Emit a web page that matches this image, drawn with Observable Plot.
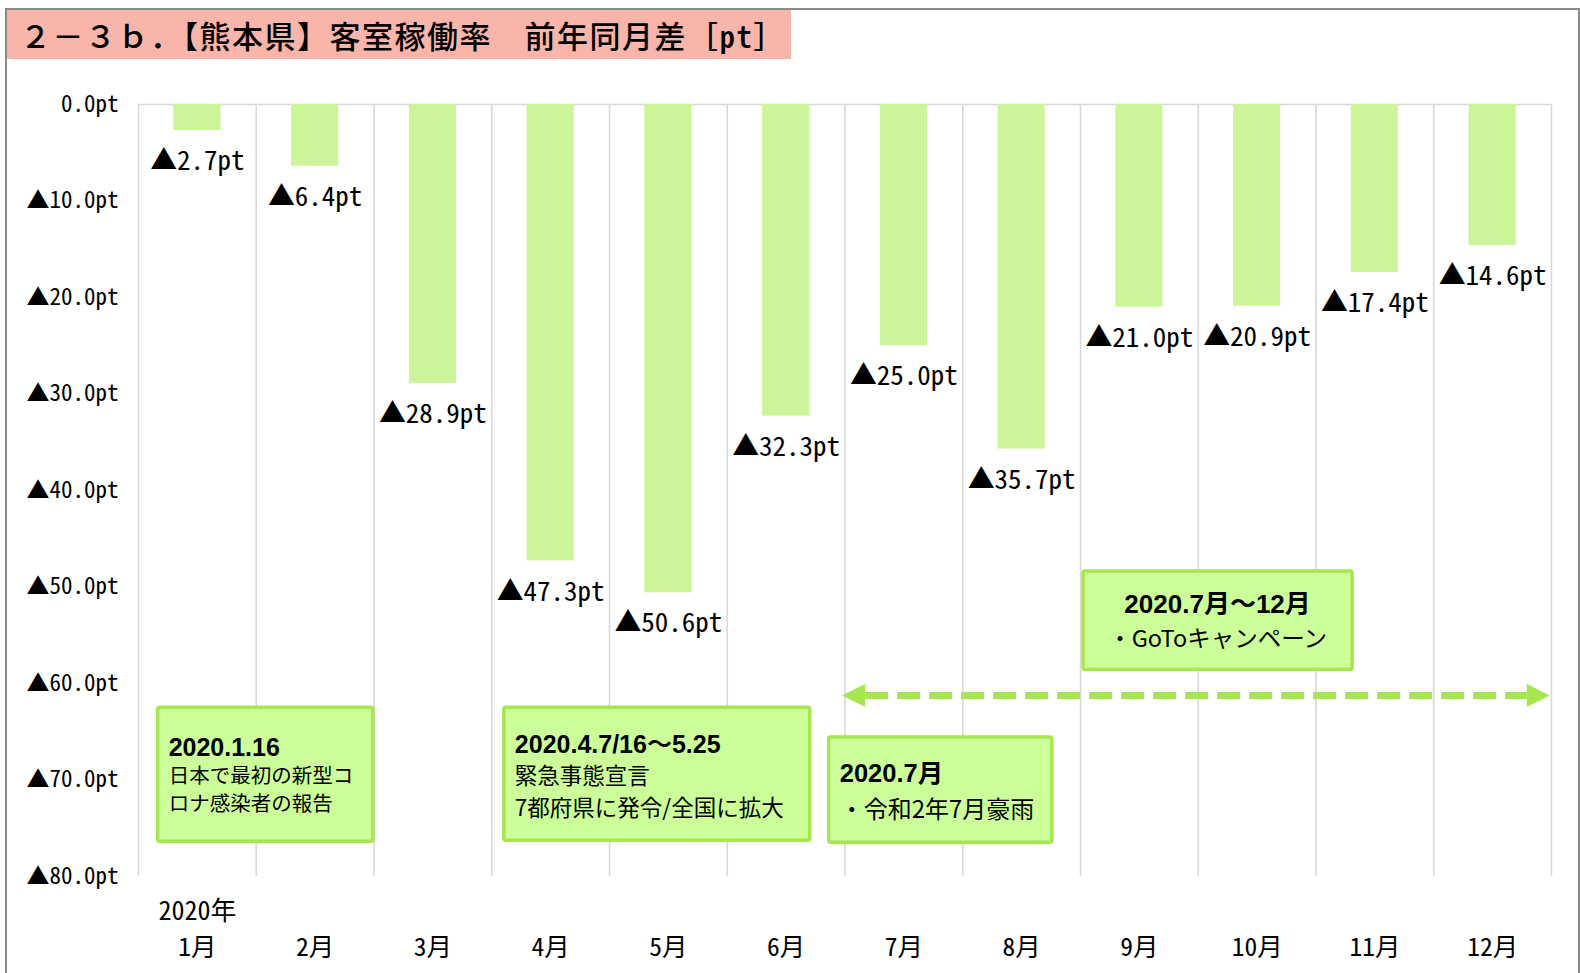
<!DOCTYPE html>
<html lang="ja">
<head>
<meta charset="utf-8">
<script src="https://cdn.jsdelivr.net/npm/d3@7"></script>
<script src="https://cdn.jsdelivr.net/npm/@observablehq/plot@0.6"></script>
<style>
  html, body { margin: 0; padding: 0; background: #fff; overflow: hidden; }
  #wrap { position: relative; width: 1580px; height: 973px; }
  #frame { position: absolute; left: 5px; top: 8px; width: 1571px; height: 1200px;
           border: 2px solid #8a8a8a; border-bottom: none; pointer-events: none; }
  #title { position: absolute; left: 7px; top: 10px; width: 771px; height: 49px;
           padding-left: 13px; background: #f9b5a9; color: #000;
           font-family: "Noto Sans CJK JP", sans-serif; font-size: 31px; line-height: 49px;
           font-weight: 500; letter-spacing: 1.5px;
           white-space: nowrap; }
  #title .hw { font-feature-settings: "hwid"; }
  #chart { position: absolute; left: 0; top: 0; }
</style>
</head>
<body>
<div id="wrap">
  <div id="chart"></div>
  <div id="frame"></div>
  <div id="title">２－３ｂ．【熊本県】客室稼働率　前年同月差［<span class="hw">pt</span>］</div>
</div>
<script>
// ---- data ----
const months = ["1月", "2月", "3月", "4月", "5月", "6月", "7月", "8月", "9月", "10月", "11月", "12月"];
const values = [-2.7, -6.4, -28.9, -47.3, -50.6, -32.3, -25.0, -35.7, -21.0, -20.9, -17.4, -14.6];
const yTicks = [0, -10, -20, -30, -40, -50, -60, -70, -80];
const yearLabel = "2020年";

// annotations (x in month units from the left edge of 1月, y in pt)
const notes = [
  {x1: 0.167, x2: 1.994, y1: -62.5, y2: -76.4, anchor: "start",
   lines: [["2020.1.16", true, 25, 40], ["日本で最初の新型コ", false, 20.5, 68], ["ロナ感染者の報告", false, 20.5, 96]]},
  {x1: 3.107, x2: 5.705, y1: -62.5, y2: -76.3, anchor: "start",
   lines: [["2020.4.7/16～5.25", true, 25, 37], ["緊急事態宣言", false, 22.5, 69], ["7都府県に発令/全国に拡大", false, 22.5, 101]]},
  {x1: 5.866, x2: 7.761, y1: -65.6, y2: -76.5, anchor: "start",
   lines: [["2020.7月", true, 25.5, 36], ["・令和2年7月豪雨", false, 24, 72]]},
  {x1: 8.026, x2: 10.311, y1: -48.4, y2: -58.6, anchor: "middle",
   lines: [["2020.7月～12月", true, 26, 33], ["・GoToキャンペーン", false, 23.5, 67]]}
];
const arrow = {x1: 5.98, x2: 11.99, y: -61.3};

const fmt = v => v === 0 ? "0.0pt" : "▲" + Math.abs(v).toFixed(1) + "pt";
const data = months.map((m, i) => ({month: m, value: values[i], label: fmt(values[i])}));

// ---- layout ----
const W = 1580, H = 973, mL = 138, mR = 29, mT = 104, mB = 97;
const pIn = 0.6, pOut = 0.3;
const step = (W - mL - mR) / (months.length - pIn + 2 * pOut);
const grid = "#d9d9d9";
const barColor = "#ccf599";

const plot = Plot.plot({
  width: W, height: H,
  marginLeft: mL, marginRight: mR, marginTop: mT, marginBottom: mB,
  style: {fontFamily: "'Noto Sans CJK JP', sans-serif", fontFeatureSettings: '"hwid"', color: "#000", background: "transparent", overflow: "visible"},
  x: {type: "band", domain: months, paddingInner: pIn, paddingOuter: pOut, round: false, axis: null},
  y: {domain: [-80, 0], ticks: yTicks, tickFormat: fmt, label: null},
  marks: [
    Plot.ruleX(months, {x: d => d, y1: 0, y2: -80, dx: -step / 2, stroke: grid, strokeWidth: 1.6}),
    Plot.ruleX(months.slice(-1), {x: d => d, y1: 0, y2: -80, dx: step / 2, stroke: grid, strokeWidth: 1.6}),
    Plot.ruleY([0], {stroke: grid, strokeWidth: 1.6}),
    Plot.axisY({ticks: yTicks, tickFormat: fmt, tickSize: 0, tickPadding: 20, fontSize: 23, label: null}),
    Plot.barY(data, {x: "month", y: "value", fill: barColor}),
    Plot.text(data, {x: "month", y: "value", text: "label", dy: 31, fontSize: 27, lineAnchor: "middle", fill: "#000"}),
    Plot.text(months, {x: d => d, text: d => d, frameAnchor: "bottom", dy: 71, fontSize: 25.5, lineAnchor: "middle", fill: "#000"}),
    Plot.text([yearLabel], {x: () => months[0], text: d => d, frameAnchor: "bottom", dy: 35, fontSize: 26, lineAnchor: "middle", fill: "#000"})
  ]
});
document.getElementById("chart").appendChild(plot);

// ---- annotations drawn from the plot's scales ----
const xs = plot.scale("x"), ys = plot.scale("y");
const r0 = xs.range[0];
const st = xs.step || step;
const px = u => r0 + u * st;
const py = v => ys.apply(v);
const svg = d3.select(plot);
const g = svg.append("g").style("font-feature-settings", "normal");

const green = "#a6e64f";
// arrow
{
  const y = py(arrow.y), a = px(arrow.x1), b = px(arrow.x2), hl = 23, hh = 11.5;
  g.append("line").attr("x1", a + hl).attr("x2", b - hl).attr("y1", y).attr("y2", y)
    .attr("stroke", green).attr("stroke-width", 7).attr("stroke-dasharray", "23 9");
  g.append("path").attr("d", `M${a},${y}L${a + hl},${y - hh}L${a + hl},${y + hh}Z`).attr("fill", green);
  g.append("path").attr("d", `M${b},${y}L${b - hl},${y - hh}L${b - hl},${y + hh}Z`).attr("fill", green);
}
for (const n of notes) {
  const x1 = px(n.x1), x2 = px(n.x2), y1 = py(n.y1), y2 = py(n.y2);
  g.append("rect").attr("x", x1).attr("y", y1).attr("width", x2 - x1).attr("height", y2 - y1)
    .attr("rx", 2).attr("fill", "#ccff99").attr("stroke", green).attr("stroke-width", 3.5);
  for (const [t, bold, fs, off] of n.lines) {
    g.append("text")
      .attr("x", n.anchor === "middle" ? (x1 + x2) / 2 : x1 + 11)
      .attr("y", y1 + off)
      .attr("dy", "0.36em")
      .attr("text-anchor", n.anchor)
      .attr("font-size", fs)
      .attr("font-weight", bold ? "bold" : "normal")
      .attr("font-family", bold ? "'Liberation Sans', 'Noto Sans CJK JP', sans-serif" : "'Noto Sans CJK JP', sans-serif")
      .attr("fill", "#000")
      .text(t);
  }
}
</script>
</body>
</html>
